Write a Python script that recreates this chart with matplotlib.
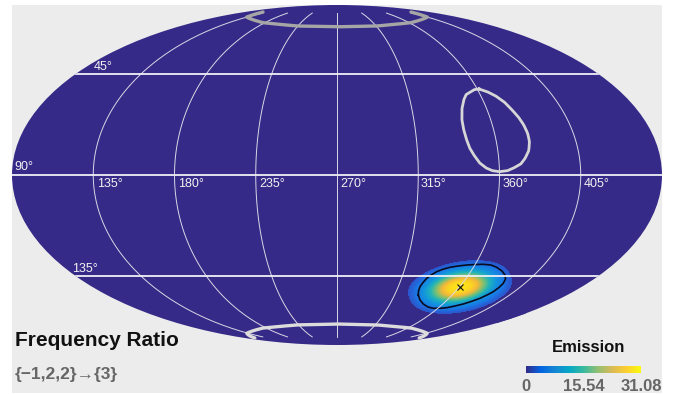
import numpy as np
import matplotlib
matplotlib.use('Agg')
import matplotlib.pyplot as plt
from matplotlib.cm import ScalarMappable
from matplotlib.colors import LinearSegmentedColormap, Normalize
from matplotlib.patches import Rectangle

# emission as a fraction of the peak, sampled on a 12 x 8 pixel grid round the hot spot
emission_max = 31.08
emission_frac = np.array([
    [.000, .000, .000, .000, .010, .019, .027, .029, .024, .015, .008],
    [.000, .003, .011, .031, .066, .108, .134, .129, .096, .050, .010],
    [.004, .018, .056, .137, .257, .372, .413, .352, .232, .095, .020],
    [.016, .060, .168, .365, .608, .780, .770, .585, .342, .130, .035],
    [.038, .122, .307, .590, .877, 1.00, .877, .590, .307, .122, .038],
    [.035, .130, .342, .585, .770, .780, .608, .365, .168, .060, .016],
    [.020, .095, .232, .352, .413, .372, .257, .137, .056, .018, .004],
    [.010, .050, .096, .129, .134, .108, .066, .031, .011, .003, .000],
    [.008, .015, .024, .029, .027, .019, .010, .000, .000, .000, .000],
])

# black outline round the hot spot, pixels from the peak
contour_dx = [-41.7, -41.5, -40, -37, -33.3, -29, -23.3, -17, -10, -2, 6.7, 15, 23.3, 31, 36.7, 42,
              45, 45.5, 43.3, 39, 33.3, 27, 20, 12, 3.3, -5, -13.3, -20, -26.7, -32, -36.7, -40, -41.7]
contour_dy = [8, 4, -.3, -4.5, -8.7, -12, -15.3, -17.8, -19.7, -21, -22, -22.5, -22.7, -22, -19.7, -16,
              -12, -8, -3.7, .5, 4.7, 8, 11.3, 14.2, 17, 19, 20.7, 21.3, 21.3, 20, 17, 13, 8]

# hand read outlines, longitude / latitude in degrees from the map centre
loop_lon = [91.2, 95.5, 99.2, 102.6, 104.9, 106.9, 108.2, 108.9, 108.7, 107.3, 104.7, 102.1, 98.7, 94.7,
            90.3, 86.3, 82.9, 79.4, 76.9, 74.6, 73.4, 72.8, 73.1, 75.0, 78.2, 81.2, 84.9, 88.0, 91.2]
loop_lat = [38.0, 36.7, 34.8, 31.9, 28.4, 25.1, 21.7, 18.0, 14.4, 10.5, 7.2, 4.8, 3.3, 1.9,
            1.4, 1.8, 2.9, 5.0, 7.8, 11.2, 15.1, 19.4, 23.8, 28.7, 32.9, 35.4, 36.7, 37.7, 38.0]
top_ring_lon = [-144, -135, -92, -46, 0, 46, 92, 135, 144]
top_ring_lat = [81.9, 77.8, 73.8, 71.6, 71.1, 71.6, 73.8, 77.8, 81.9]
bottom_ring_lon = [-160, -137, -94, -47, 0, 47, 94, 137, 160]
bottom_ring_lat = [-81.9, -78.1, -74.3, -72.2, -71.6, -72.2, -74.3, -78.1, -81.9]
peak_lon = [90.6]
peak_lat = [-50.7]

meridian_labels = ['135°', '180°', '235°', '270°', '315°', '360°', '405°']
meridian_label_x = [97, 178, 259, 340, 421, 503, 584]
parallel_labels = ['45°', '90°', '135°']
parallel_label_x = [94, 14, 72]
parallel_label_y = [67, 167, 269]
bar_ticks = [0, 15.54, 31.08]
bar_labels = ['0', '15.54', '31.08']

W, H = 676, 394
plt.rcParams['font.family'] = ['Liberation Sans', 'DejaVu Sans']

parula = ['#352a87', '#0363e1', '#1485d4', '#06a7c6', '#38b99e', '#92bf73', '#d9ba56', '#fccf30', '#f9fb0e']
pos = np.linspace(0, 1, len(parula))
bar_cmap = LinearSegmentedColormap.from_list('parula', list(zip(pos, parula)))

# the map has a hard edge where the emission drops to nothing, the hot spot is more vivid than the bar
step = 0.1
blob_cmap = LinearSegmentedColormap.from_list('blob', [
    (0, parula[0]), (step, parula[0]), (step, '#2c55cc'),
    (0.2, '#1a78e6'), (0.34, '#1298dc'), (0.46, '#22b4b8'),
    (0.58, '#80c070'), (0.7, '#f2b83a'), (0.82, '#fdd820'), (1, '#faf60e'),
], N=512)


def rect(x0, y0, x1, y1):
    return [x0 / W, 1 - y1 / H, (x1 - x0) / W, (y1 - y0) / H]


def label(x, y, s, **kw):
    return fig.text(x / W, 1 - y / H, s, **kw)


fig = plt.figure(figsize=(W / 100, H / 100), dpi=100, facecolor='white')
fig.patches.append(Rectangle((12 / W, 1 - 393 / H), 650 / W, 388 / H, transform=fig.transFigure,
                             facecolor='#ececec', edgecolor='none', figure=fig, zorder=-5))

map_rect = rect(12, 5, 662, 345)

ax_bg = fig.add_axes(map_rect, projection='mollweide', zorder=1)
ax_bg.set_aspect('auto')
ax_bg.set_facecolor(parula[0])
ax_bg.grid(False)
ax_bg.set_xticklabels([])
ax_bg.set_yticklabels([])
ax_bg.spines['geo'].set_visible(False)

# hot spot sits between the background and the grid
ax_blob = fig.add_axes(rect(394, 251, 526, 323), zorder=2)
ax_blob.axis('off')
emission = emission_frac * emission_max
extent = (-66, 66, 36, -36)
im = ax_blob.imshow(emission, cmap=blob_cmap, norm=Normalize(0, emission_max), extent=extent,
                    interpolation='bicubic', aspect='auto')
im.set_clip_path(ax_bg.patch)
# agg caches the clip mask, it has to be built against the whole map box
im.set_clip_box(ax_bg.bbox)
ax_blob.plot(contour_dx, contour_dy, color='#0a0a20', lw=1.2)

ax = fig.add_axes(map_rect, projection='mollweide', zorder=3)
ax.set_aspect('auto')
ax.patch.set_visible(False)
ax.spines['geo'].set_visible(False)
ax.set_longitude_grid(45)
ax.set_latitude_grid(45)
ax.set_longitude_grid_ends(81)
ax.set_xticklabels([])
ax.set_yticklabels([])
ax.xaxis.grid(True, color='#d8d8e6', linewidth=0.7, linestyle='-')
ax.yaxis.grid(True, color='#f0f0f6', linewidth=1.3, linestyle='-')

ax.plot(np.radians(loop_lon), np.radians(loop_lat), color='#d6d6d6', lw=2.0, solid_joinstyle='round')
ax.plot(np.radians(top_ring_lon), np.radians(top_ring_lat), color='#a6a6a6', lw=2.4, solid_capstyle='round')
ax.plot(np.radians(bottom_ring_lon), np.radians(bottom_ring_lat), color='#dcdcdc', lw=2.4, solid_capstyle='round')
ax.plot(np.radians(peak_lon), np.radians(peak_lat), 'x', color='#111111', ms=5, mew=0.8)

for s, x in zip(meridian_labels, meridian_label_x):
    label(x, 184, s, color='#f2f2f2', fontsize=9, ha='left', va='center', zorder=5)
for s, x, y in zip(parallel_labels, parallel_label_x, parallel_label_y):
    label(x, y, s, color='#f2f2f2', fontsize=9, ha='left', va='center', zorder=5)

label(15, 340, 'Frequency Ratio', fontsize=15, fontweight='bold', color='#111111', ha='left', va='center')
label(15, 374, '{−1,2,2}→{3}', fontsize=12.5, fontweight='bold', color='#666666', ha='left', va='center',
      family=['Liberation Sans', 'DejaVu Sans'])
label(589, 347, 'Emission', fontsize=12, fontweight='bold', color='#111111', ha='center', va='center')

cax = fig.add_axes(rect(526, 366, 641, 373))
cb = fig.colorbar(ScalarMappable(Normalize(0, emission_max), bar_cmap), cax=cax,
                  orientation='horizontal', ticks=bar_ticks)
cb.outline.set_visible(False)
cb.ax.set_xticklabels(bar_labels, fontsize=12, fontweight='bold', color='#666666')
cb.ax.tick_params(length=0, pad=4)

fig.savefig('out.png', dpi=100)
